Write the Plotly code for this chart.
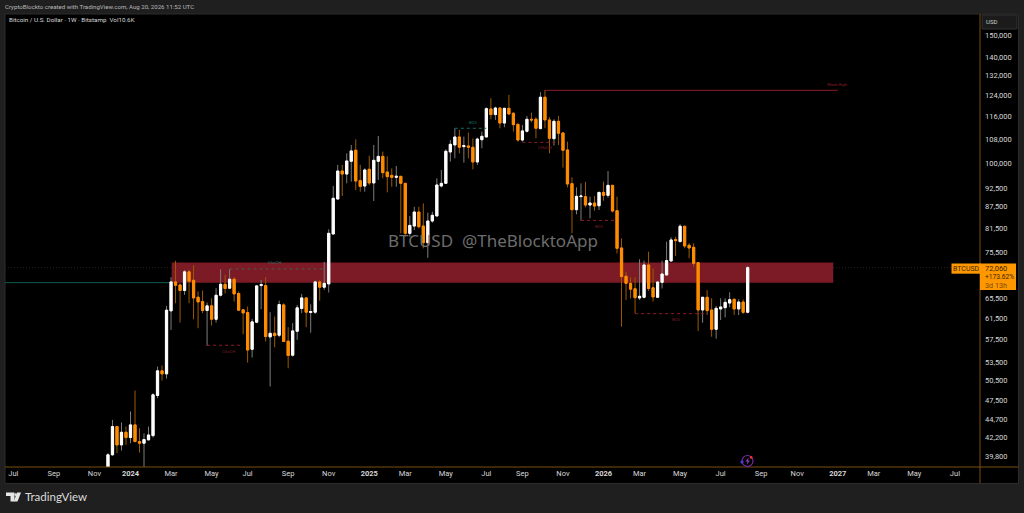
import math
import pandas as pd
import plotly.graph_objects as go

W, H = 1024, 513
L, R, T, B = 5, 980, 14, 467

# ---- weekly candles, Bitstamp BTCUSD, first week 2023-11-27 ----
first_week = "2023-11-27"
opens = [38000,39950,43670,41220,42890,42180,43900,41660,41440,41880,42440,48160,52050,51560,62880,68890,68240,67050,71110,69250,
65640,64750,62950,63880,61240,66060,68380,67540,69480,66420,63090,62550,55710,60680,68100,68100,57930,58590,58230,64080,
57150,54680,58970,63350,65500,62550,62620,68890,67750,68450,80120,89470,97710,96780,100750,104310,94790,93200,98240,94100,
100750,102320,97400,96380,95790,96090,93990,80290,82150,85870,82150,77950,83460,84800,93200,93990,103760,106070,108780,105520,
105740,105300,100540,107840,108780,118810,116730,119180,113660,119060,117220,113190,107730,110750,115010,115010,111680,123290,114770,108190,
114280,110170,104420,93900,86500,90130,90130,87770,88340,87580,91350,90500,93400,86230,76670,70120,68580,67410,65490,65630,
72670,67630,65630,68800,70410,73590,78710,78220,82100,77320,76830,73190,63060,65630,63060,59330,63260,63520,64450,65210,
63260,64660,62600]
highs = [40150,44600,43770,44230,43670,45790,48920,43440,42750,43670,48510,52750,52920,63880,69920,73620,68590,71550,71550,72600,
66830,67050,64550,65430,67540,71700,70440,71700,69920,66830,63200,63750,61310,68240,69330,69920,62620,61750,64950,64410,
59730,60490,64080,66340,65600,64210,69180,69330,73400,81320,93200,99600,99600,103310,106070,107960,99600,98550,102540,106070,
109120,103870,102320,98550,99280,96180,94000,84800,87300,87300,88240,85690,85960,95490,98030,104640,107730,111800,111210,108890,
110300,108310,108540,110630,119420,122900,119670,119420,119100,124190,117460,113540,112960,116240,117460,115750,125230,126130,115750,115010,
116240,110250,107180,95790,92800,93990,94400,90130,90310,91400,94500,97710,93500,90130,79030,71150,69900,69900,73980,73670,
75780,71890,69000,73670,78220,79280,79440,82610,82200,77810,77810,73300,65700,67130,65420,63860,65420,65420,66680,65420,
65210,65210,72420]
lows = [37500,39830,40150,40490,41220,41440,41530,40240,38200,41790,42180,47750,50480,50800,59220,64410,60610,66130,64410,61240,
59540,62420,56310,60040,60610,65780,66420,67330,64730,62880,58410,53430,54280,60490,63210,57090,49540,56070,57870,57000,
52480,54450,57390,62420,59730,58710,62280,64950,67190,66620,80050,89180,90310,93990,94500,92010,91540,91540,93490,88900,
95000,95490,91350,92990,92990,80290,79440,79440,81130,81550,76580,74320,83010,84700,92800,93790,100640,101690,103310,100330,
101690,98240,99600,104970,108660,115010,114770,111800,112150,116600,110630,107180,107180,110300,113930,108310,111450,111800,103310,105860,
106070,98770,92800,80290,85240,83540,87120,84170,86230,86410,88990,89840,85780,75370,59830,65070,65420,62400,65070,65420,
66970,64730,65500,67480,70300,73500,74750,78100,76590,74210,72280,59020,60580,62070,57960,57590,61080,61600,63590,62070,
62070,62270,62400]
closes = [39950,43670,41220,42890,42180,43900,41660,41440,41920,42530,48260,52050,51560,63020,68890,68170,67050,71110,69030,65500,
64680,62950,63880,61240,66060,68380,67470,69480,66340,63020,62480,55590,60740,68030,68310,57990,58590,58170,64150,57090,
54630,59030,63480,65500,62620,62750,68890,67750,68590,80290,89655,97710,96780,100850,104090,94690,93100,98030,94100,101060,
102320,97190,95990,95790,96090,93990,80290,82320,85870,81980,77950,83460,84980,93500,93990,103980,106290,108780,105300,105850,
105300,100540,108070,109000,118930,116730,119180,113660,119060,116970,113080,107730,110870,115010,114770,111800,123290,114770,108310,114280,
110050,104310,93800,86500,90220,90310,87770,88340,87490,91350,90500,93400,86140,76580,70050,68580,67340,65560,65840,72670,
67480,65700,68870,70630,73670,78630,78470,82100,77160,76670,73040,63060,65630,62930,59330,63390,63660,64590,65140,63260,
64660,62600,72060]

# ---- axis labels ----
price_ticks = [150000,140000,132000,124000,116000,108000,100000,92500,87500,81500,75500,65500,61500,57500,53500,50500,47500,44700,42200,39800]
time_ticks = ["2023-07-03","2023-09-04","2023-11-06","2024-01-01","2024-03-04","2024-05-06","2024-07-01","2024-09-02","2024-11-04",
              "2025-01-06","2025-03-03","2025-05-05","2025-07-07","2025-09-01","2025-11-03","2026-01-05","2026-03-02","2026-05-04",
              "2026-07-06","2026-09-07","2026-11-02","2027-01-04","2027-03-01","2027-05-03","2027-07-05"]
time_labels = ["Jul","Sep","Nov","<b>2024</b>","Mar","May","Jul","Sep","Nov","<b>2025</b>","Mar","May","Jul","Sep","Nov",
               "<b>2026</b>","Mar","May","Jul","Sep","Nov","<b>2027</b>","Mar","May","Jul"]

# ---- drawings ----
zone_start, zone_end = "2024-03-05", "2026-12-28"
zone_top, zone_bottom = 73230, 68730
last_price = 72060
support_end, support_price = "2024-03-05", 68730
weak_high_start, weak_high_end, weak_high_price = "2025-10-06", "2027-01-04", 126000
weak_high_label_price = 128140
structure_names = ["ChoCH", "ChoCH", "BOS", "CHoCH", "BOS", "BOS"]
structure_start = ["2024-04-29", "2024-06-03", "2025-05-19", "2025-09-01", "2025-12-01", "2026-02-23"]
structure_end = ["2024-06-24", "2024-10-28", "2025-07-07", "2025-10-27", "2026-01-26", "2026-06-15"]
structure_price = [56430, 71770, 111800, 106950, 83630, 62330]
structure_label_date = ["2024-06-02", "2024-08-11", "2025-06-16", "2025-10-06", "2025-12-29", "2026-04-28"]
structure_label_price = [55300, 73220, 113780, 105090, 81980, 61280]
structure_color = ["#8e1c2a", "#465a50", "#0f6f60", "#8e1c2a", "#8e1c2a", "#8e1c2a"]
label_color = ["#7a1a26", "#2f6a60", "#0f6f60", "#7a1a26", "#7a1a26", "#7a1a26"]

UP, DOWN, UP_WICK, DOWN_WICK = "#ffffff", "#ff8c00", "#7c7c7c", "#9c5a00"
FRAME, EDGE = "#000000", "#7a4f12"

dates = pd.date_range(first_week, periods=len(closes), freq="7D")
tops = [max(o, c) for o, c in zip(opens, closes)]
bottoms = [min(o, c) for o, c in zip(opens, closes)]

def px(x):
    return (x - L) / (R - L)

def py(y):
    return (B - y) / (B - T)

fig = go.Figure()
fig.add_trace(go.Candlestick(x=dates, open=opens, high=highs, low=lows, close=closes,
    increasing=dict(line=dict(color=UP_WICK, width=1), fillcolor=UP_WICK),
    decreasing=dict(line=dict(color=DOWN_WICK, width=1), fillcolor=DOWN_WICK),
    whiskerwidth=0, showlegend=False, hoverinfo="skip"))
fig.add_trace(go.Candlestick(x=dates, open=opens, high=tops, low=bottoms, close=closes,
    increasing=dict(line=dict(color=UP, width=1), fillcolor=UP),
    decreasing=dict(line=dict(color=DOWN, width=1), fillcolor=DOWN),
    whiskerwidth=0, showlegend=False, hoverinfo="skip"))

for s, e, p, c in zip(structure_start, structure_end, structure_price, structure_color):
    fig.add_trace(go.Scatter(x=[s, e], y=[p, p], mode="lines", showlegend=False, hoverinfo="skip",
                             line=dict(color=c, width=1, dash="3px,3px")))
fig.add_trace(go.Scatter(x=[weak_high_start, weak_high_end], y=[weak_high_price] * 2, mode="lines", showlegend=False,
                         hoverinfo="skip", line=dict(color="#8e1c2a", width=1)))

shapes = [
    dict(type="rect", xref="paper", yref="paper", x0=px(5), x1=px(1018.5), y0=py(483.5), y1=py(14),
         fillcolor=FRAME, line=dict(color="#2c2c2c", width=1), layer="below"),
    dict(type="rect", xref="x", yref="y", x0=zone_start, x1=zone_end, y0=zone_bottom, y1=zone_top,
         fillcolor="#7c1b25", line=dict(width=0), layer="below"),
    dict(type="line", xref="x", yref="y", x0="2023-06-20", x1=support_end, y0=support_price, y1=support_price,
         line=dict(color="#0e5a50", width=1), layer="below"),
    dict(type="line", xref="paper", yref="y", x0=0, x1=1, y0=last_price, y1=last_price,
         line=dict(color="#24241c", width=1, dash="1px,2px"), layer="below"),
    dict(type="line", xref="paper", yref="paper", x0=px(5), x1=px(1018.5), y0=py(467), y1=py(467),
         line=dict(color=EDGE, width=1)),
    dict(type="line", xref="paper", yref="paper", x0=px(980), x1=px(980), y0=py(14), y1=py(483),
         line=dict(color=EDGE, width=1)),
    # currency box
    dict(type="rect", xref="paper", yref="paper", x0=px(982), x1=px(1017), y0=py(29), y1=py(15),
         fillcolor="#1b1b1b", line=dict(color="#333333", width=1)),
    # last price flag
    dict(type="rect", xref="paper", yref="paper", x0=px(951.5), x1=px(981), y0=py(273.7), y1=py(263.5),
         fillcolor="#ff9800", line=dict(width=0)),
    dict(type="rect", xref="paper", yref="paper", x0=px(980), x1=px(1016), y0=py(290), y1=py(263.5),
         fillcolor="#ff9800", line=dict(width=0)),
    # publisher badge
    dict(type="circle", xref="paper", yref="paper", x0=px(742), x1=px(753), y0=py(466.5), y1=py(455.5),
         line=dict(color="#7a2aa8", width=1.2)),
    dict(type="path", xref="paper", yref="paper", fillcolor="#8a3ac0", line=dict(width=0),
         path=f"M {px(748.5)} {py(457.5)} L {px(745.5)} {py(461.5)} L {px(747.5)} {py(461.5)} L {px(746.5)} {py(465)} "
              f"L {px(750)} {py(460.5)} L {px(748)} {py(460.5)} Z"),
    dict(type="circle", xref="paper", yref="paper", x0=px(749.8), x1=px(752.6), y0=py(458.8), y1=py(456),
         fillcolor="#f0303a", line=dict(width=0)),
    dict(type="path", xref="paper", yref="paper", fillcolor="#4a38d8", line=dict(width=0),
         path=f"M {px(740)} {py(462)} L {px(742)} {py(460)} L {px(744)} {py(462)} L {px(742)} {py(464)} Z"),
    # TradingView logo mark
    dict(type="path", xref="paper", yref="paper", fillcolor="#e6e6e6", line=dict(width=0),
         path=f"M {px(6)} {py(492.5)} H {px(14.5)} V {py(501.5)} H {px(10.5)} V {py(496)} H {px(6)} Z"),
    dict(type="circle", xref="paper", yref="paper", x0=px(14.4), x1=px(16.8), y0=py(496), y1=py(493.2),
         fillcolor="#e6e6e6", line=dict(width=0)),
    dict(type="path", xref="paper", yref="paper", fillcolor="#e6e6e6", line=dict(width=0),
         path=f"M {px(17)} {py(492.5)} H {px(21)} L {px(17.5)} {py(501.5)} H {px(13.8)} Z"),
]

def note(x, y, text, size=7, color="#d0d0d0", anchor="left", font="Roboto"):
    return dict(xref="paper", yref="paper", x=px(x), y=py(y), text=text, showarrow=False, xanchor=anchor,
                yanchor="middle", font=dict(size=size, color=color, family=font), borderpad=0, borderwidth=0)

annotations = [
    note(5, 6.5, "CryptoBlockto created with TradingView.com, Aug 20, 2026 11:52 UTC", 6.1, "#b8b8b8"),
    note(9, 20, "Bitcoin / U.S. Dollar · 1W · Bitstamp  Vol10.6K", 6.25, "#d8d8d8"),
    note(986, 22, "USD", 6, "#d0d0d0"),
    note(492.5, 240, "BTCUSD  @TheBlocktoApp", 17, "#6c6c6c", "center", "Noto Sans"),
    note(953, 268.7, "BTCUSD", 7, "#3a2400"),
    note(985, 268.7, "72,060", 7.4, "#3a2400"),
    note(985, 276.7, "+173.62%", 6.7, "#3a2400"),
    note(985, 285, "3d 13h", 7.2, "#7a4a00"),
    note(24.5, 497, "TradingView", 11.5, "#dcdcdc", "left", "Lato"),
    # annotations on a log axis take the exponent of the price
    dict(xref="x", yref="y", x=weak_high_end, y=math.log10(weak_high_label_price), text="Weak High", showarrow=False,
         yanchor="middle", font=dict(size=4.2, color="#8e1c2a", family="Roboto")),
]
for name, d, p, c in zip(structure_names, structure_label_date, structure_label_price, label_color):
    annotations.append(dict(xref="x", yref="y", x=d, y=math.log10(p), text=name, showarrow=False, yanchor="middle",
                            font=dict(size=4.2, color=c, family="Roboto")))

fig.update_layout(
    width=W, height=H, margin=dict(l=L, r=W - R, t=T, b=H - B, pad=0), autosize=False,
    paper_bgcolor="#1f1f1f", plot_bgcolor=FRAME, showlegend=False, hovermode=False,
    font=dict(family="Roboto", color="#d8d8d8", size=7.5),
    shapes=shapes, annotations=annotations,
    xaxis=dict(type="date", range=["2023-06-20", "2027-08-13"], rangeslider=dict(visible=False), showgrid=False,
               zeroline=False, tickmode="array", tickvals=time_ticks, ticktext=time_labels, ticks="", showline=False,
               tickfont=dict(size=7.5, color="#d8d8d8", family="Roboto"), tickangle=0),
    yaxis=dict(type="log", side="right", range=[math.log10(38444), math.log10(160263)], showgrid=False, zeroline=False,
               tickmode="array", tickvals=price_ticks, ticktext=[f"{v:,}" for v in price_ticks], ticks="", showline=False,
               ticklabelstandoff=4, tickfont=dict(size=7.5, color="#d8d8d8", family="Roboto")),
)

fig.write_html("out.html", config=dict(displayModeBar=False),
               post_script="document.body.style.margin='0';document.body.style.background='#1f1f1f';document.body.style.overflow='hidden';")
